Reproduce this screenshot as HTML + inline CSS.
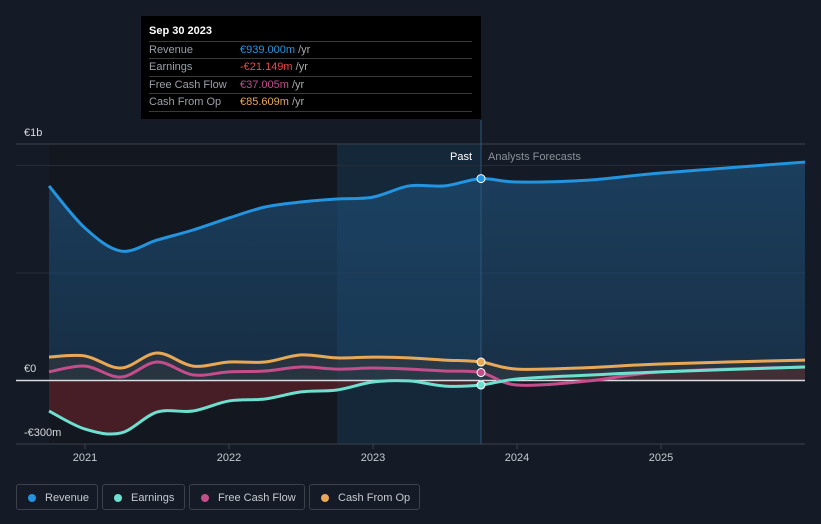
<!DOCTYPE html>
<html><head><meta charset="utf-8"><style>
body{margin:0;background:#151b26;width:821px;height:524px;overflow:hidden;font-family:"Liberation Sans",sans-serif}
svg{position:absolute;left:0;top:0}
.tt{position:absolute;left:141px;top:16px;width:340px;height:103px;background:#000}
.tt .h{position:absolute;left:8px;top:9px;color:#fff;font-size:11px;font-weight:bold}
.row{position:absolute;left:8px;width:323px;height:17px;border-top:1px solid #3a3a3a;font-size:11px;color:#9aa0a8;line-height:17px}
.row span.v{position:absolute;left:91px}
.row i{font-style:normal;color:#aaa}
.leg{position:absolute;top:484px;height:26px;border:1px solid #3c424c;border-radius:3px;color:#c6cad0;font-size:11px;line-height:26px;box-sizing:border-box}
.leg b{position:absolute;left:11px;top:9px;width:8px;height:8px;border-radius:50%}
.leg span{position:absolute;left:28px}
</style></head><body>
<svg id="c" width="821" height="524"></svg>
<div class="tt">
<div class="h">Sep 30 2023</div>
<div class="row" style="top:25px"><span>Revenue</span><span class="v"><span style="color:#2394df">€939.000m</span> <i>/yr</i></span></div>
<div class="row" style="top:42px"><span>Earnings</span><span class="v"><span style="color:#f0464a">-€21.149m</span> <i>/yr</i></span></div>
<div class="row" style="top:60px"><span>Free Cash Flow</span><span class="v"><span style="color:#c44d8c">€37.005m</span> <i>/yr</i></span></div>
<div class="row" style="top:77px;border-bottom:1px solid #3a3a3a"><span>Cash From Op</span><span class="v"><span style="color:#e8a856">€85.609m</span> <i>/yr</i></span></div>
</div>
<div class="leg" style="left:16px;width:82px"><b style="background:#2394df"></b><span>Revenue</span></div>
<div class="leg" style="left:102px;width:83px"><b style="background:#6de0d0"></b><span>Earnings</span></div>
<div class="leg" style="left:189px;width:116px"><b style="background:#c44d8c"></b><span>Free Cash Flow</span></div>
<div class="leg" style="left:309px;width:111px"><b style="background:#e8a856"></b><span>Cash From Op</span></div>
<script>
const years=[2020.75,2021,2021.25,2021.5,2021.75,2022,2022.25,2022.5,2022.75,2023,2023.25,2023.5,2023.75,2024,2024.5,2025,2026];
const revenue=[905,709,602,653,700,756,807,830,844,853,905,905,939,923,932,965,1016];
const earnings=[-142,-226,-244,-147,-142,-95,-86,-53,-44,-7,-2,-26,-21,7,25,40,63];
const fcf=[40,67,16,86,26,40,44,63,53,58,53,44,37,-21,-2,40,63];
const cfo=[109,114,58,128,67,86,86,119,105,109,105,95,86,53,60,77,95];
const xTicks=[2021,2022,2023,2024,2025];
const yLabels=["€1b","€0","-€300m"];
const X=v=>85+(v-2021)*144, Y=v=>380.5-v*0.215;
const s=document.getElementById('c'),NS='http://www.w3.org/2000/svg';
function el(t,a,txt){const e=document.createElementNS(NS,t);for(const k in a)e.setAttribute(k,a[k]);if(txt!==undefined)e.textContent=txt;s.appendChild(e);return e;}
function path(arr){const p=years.map((y,i)=>[X(y),Y(arr[i])]);let d='M'+p[0];for(let i=0;i<p.length-1;i++){const a=p[i-1]||p[i],b=p[i],c=p[i+1],e=p[i+2]||c;d+=`C${b[0]+(c[0]-a[0])/6},${b[1]+(c[1]-a[1])/6} ${c[0]-(e[0]-b[0])/6},${c[1]-(e[1]-b[1])/6} ${c[0]},${c[1]}`;}return d;}
const defs=el('defs',{});defs.innerHTML='<linearGradient id="rg" x1="0" y1="0" x2="0" y2="1"><stop offset="0" stop-color="#1d4a70" stop-opacity=".75"/><stop offset="1" stop-color="#1d4a70" stop-opacity=".45"/></linearGradient>';
let r=el('rect',{x:X(2020.75),y:144,width:X(2023.75)-X(2020.75),height:300,fill:'#121720'});
r=el('rect',{x:X(2022.75),y:144,width:X(2023.75)-X(2022.75),height:300,fill:'#15283a'});
[1000,500].forEach(v=>el('line',{x1:16,x2:805,y1:Y(v),y2:Y(v),stroke:'#252d3a'}));
el('line',{x1:16,x2:805,y1:144,y2:144,stroke:'#3a414d'});
el('line',{x1:16,x2:805,y1:444,y2:444,stroke:'#3a414d'});
const z=Y(0),x0=X(years[0]),x1=X(years[years.length-1]);
el('path',{d:path(revenue)+`L${x1},${z}L${x0},${z}Z`,fill:'url(#rg)'});
el('path',{d:path(earnings)+`L${x1},${z}L${x0},${z}Z`,fill:'#5a2128',opacity:.75});
el('path',{d:path(cfo)+`L${x1},${z}L${x0},${z}Z`,fill:'#3a3a3a',opacity:.5});
el('line',{x1:16,x2:805,y1:z,y2:z,stroke:'#d8dbe0','stroke-width':1.5});
el('line',{x1:X(2023.75),x2:X(2023.75),y1:120,y2:444,stroke:'#2c5878'});
const series=[[revenue,'#2394df','revenue'],[cfo,'#e8a856','cash-from-op'],[fcf,'#c44d8c','free-cash-flow'],[earnings,'#6de0d0','earnings']];
series.forEach(([a,c,n])=>{const p=el('path',{d:path(a),fill:'none',stroke:c,'stroke-width':3});
const i=years.indexOf(2023.75);const d=el('circle',{cx:X(2023.75),cy:Y(a[i]),r:4,fill:c,stroke:'#fff','stroke-width':1});});
xTicks.forEach(t=>{el('line',{x1:X(t),x2:X(t),y1:444,y2:449,stroke:'#3a414d'});const tx=el('text',{x:X(t),y:461,fill:'#c6cad0','font-size':11,'text-anchor':'middle'},t);});
[[yLabels[0],136],[yLabels[1],372],[yLabels[2],436]].forEach(([t,y])=>{const tx=el('text',{x:24,y:y,fill:'#d6d9de','font-size':11},t);});
let t=el('text',{x:472,y:160,fill:'#fff','font-size':11,'text-anchor':'end'},'Past');
t=el('text',{x:488,y:160,fill:'#8a9099','font-size':11},'Analysts Forecasts');
</script>
</body></html>
